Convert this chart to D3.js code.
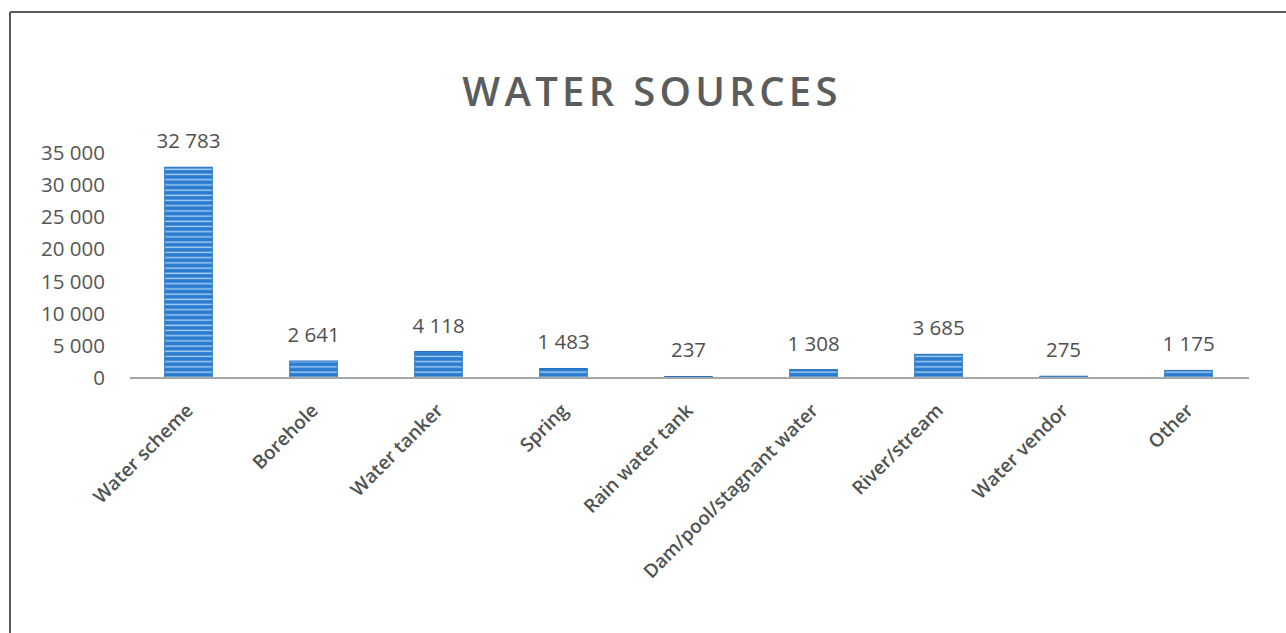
<!DOCTYPE html>
<html>
<head>
<meta charset="utf-8">
<script src="https://cdn.jsdelivr.net/npm/d3@7"></script>
<style>
  html, body { margin: 0; padding: 0; background: #fff; }
  svg { display: block; }
</style>
</head>
<body>
<svg id="chart" width="1286" height="633"></svg>
<script>
// Water sources: number of households per source
const categories = ["Water scheme", "Borehole", "Water tanker", "Spring", "Rain water tank",
                    "Dam/pool/stagnant water", "River/stream", "Water vendor", "Other"];
const values = [32783, 2641, 4118, 1483, 237, 1308, 3685, 275, 1175];
const yTicks = [0, 5000, 10000, 15000, 20000, 25000, 30000, 35000];
const title = "WATER SOURCES";

const W = 1286, H = 633;
const margin = { left: 126, right: 35 };
const font = "'Open Sans', 'Liberation Sans', sans-serif";
const fmt = v => d3.format(",")(v).replace(/,/g, " ");

const svg = d3.select("#chart");

// frame lines (top and left edges of the chart area)
svg.append("line").attr("x1", 10).attr("x2", W).attr("y1", 12).attr("y2", 12)
  .attr("stroke", "#5a5a5a").attr("stroke-width", 2);
svg.append("line").attr("x1", 10).attr("x2", 10).attr("y1", 12).attr("y2", H)
  .attr("stroke", "#5a5a5a").attr("stroke-width", 2);

// striped blue fill for the bars
const defs = svg.append("defs");
const pat = defs.append("pattern").attr("id", "stripes")
  .attr("patternUnits", "userSpaceOnUse").attr("width", 8).attr("height", 5.2);
pat.append("rect").attr("width", 8).attr("height", 5.2).attr("fill", "#2b7cd0");
pat.append("rect").attr("y", 2.2).attr("width", 8).attr("height", 1.4).attr("fill", "#a8cef2");

const x = d3.scaleBand().domain(categories)
  .range([margin.left, W - margin.right]).paddingInner(0.62).paddingOuter(0.31);
const y = d3.scaleLinear().domain([0, 35000]).range([378, 153]);

// title
svg.append("text").attr("x", 652).attr("y", 106).attr("text-anchor", "middle")
  .attr("font-family", font).attr("font-size", 40).attr("font-weight", 600)
  .attr("letter-spacing", 4.3).attr("fill", "#5a5d5c").text(title);

// y axis labels (no line)
const yAxis = svg.append("g").attr("transform", `translate(${105},0)`)
  .call(d3.axisLeft(y).tickValues(yTicks).tickFormat(fmt).tickSize(0).tickPadding(0));
yAxis.select(".domain").remove();
yAxis.selectAll("text").attr("font-family", font).attr("font-size", 20.5)
  .attr("fill", "#565656");

// bars
svg.append("g").selectAll("rect").data(values).join("rect")
  .attr("x", (d, i) => x(categories[i]))
  .attr("y", d => y(d))
  .attr("width", x.bandwidth())
  .attr("height", d => y(0) - y(d))
  .attr("fill", "url(#stripes)")
  .attr("stroke", "#2470c0").attr("stroke-width", 1);

// baseline
svg.append("line").attr("x1", 130).attr("x2", 1249).attr("y1", y(0)).attr("y2", y(0))
  .attr("stroke", "#a6a6a6").attr("stroke-width", 2);

// value labels
svg.append("g").selectAll("text").data(values).join("text")
  .attr("x", (d, i) => x(categories[i]) + x.bandwidth() / 2)
  .attr("y", d => y(d) - 19)
  .attr("text-anchor", "middle")
  .attr("font-family", font).attr("font-size", 20.5).attr("fill", "#505050")
  .text(fmt);

// rotated category labels
const xAxis = svg.append("g").attr("transform", `translate(0,${y(0)})`)
  .call(d3.axisBottom(x).tickSize(0).tickPadding(0));
xAxis.select(".domain").remove();
xAxis.selectAll("text")
  .attr("font-family", font).attr("font-size", 19).attr("font-weight", 600)
  .attr("fill", "#4f5453")
  .attr("text-anchor", "end")
  .attr("transform", "translate(1,29) rotate(-45)")
  .attr("dy", "0.35em");
</script>
</body>
</html>
